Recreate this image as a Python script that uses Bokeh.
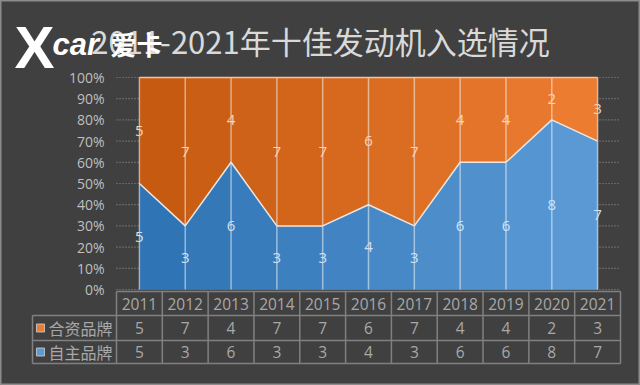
import numpy as np
from bokeh.plotting import figure
from bokeh.models import Range1d
from bokeh.core.properties import value
from bokeh.embed import file_html
from bokeh.resources import INLINE

# ---------------- data ----------------
title_text = "2011-2021年十佳发动机入选情况"
years = ["2011", "2012", "2013", "2014", "2015", "2016", "2017", "2018", "2019", "2020", "2021"]
series_names = ["合资品牌", "自主品牌"]
hezi = [5, 7, 4, 7, 7, 6, 7, 4, 4, 2, 3]      # 合资品牌 (top, orange)
zizhu = [5, 3, 6, 3, 3, 4, 3, 6, 6, 8, 7]     # 自主品牌 (bottom, blue)
y_ticks = [0, 10, 20, 30, 40, 50, 60, 70, 80, 90, 100]
y_tick_labels = ["0%", "10%", "20%", "30%", "40%", "50%", "60%", "70%", "80%", "90%", "100%"]

# ---------------- layout (pixels -> data) ----------------
W, H = 640, 385
cell_w = 504 / 11.0          # width of a table column in px
left_px = 116                # left edge of plot/table columns
zero_py = 289                # pixel row of 0%
ppu = 2.12                   # px per percent

x0 = -0.5 - left_px / cell_w
x1 = x0 + W / cell_w
y_top = zero_py / ppu
y_bot = -(H - zero_py) / ppu


def X(px):
    return x0 + px / cell_w


def Y(py):
    return (zero_py - py) / ppu


BG = "#404040"
FONT = "Open Sans"
CJK = "Noto Sans CJK SC"

p = figure(width=W, height=H, output_backend="svg", toolbar_location=None,
           x_range=Range1d(x0, x1), y_range=Range1d(y_bot, y_top),
           x_axis_type=None, y_axis_type=None, min_border=0,
           background_fill_color=BG, border_fill_color=BG)
p.grid.visible = False
p.outline_line_color = "#8c8c8c"
p.outline_line_width = 2

n = len(years)
idx = np.arange(n)
tot = np.array(hezi) + np.array(zizhu)
blue_pct = np.array(zizhu) / tot * 100.0

# ---------------- gridlines ----------------
p.segment(x0=[-0.5] * len(y_ticks), x1=[n - 0.5] * len(y_ticks), y0=y_ticks, y1=y_ticks,
          line_color="#8a8a8a", line_width=1.2, line_dash="1 2")

# y tick labels
p.text(x=[X(104)] * len(y_ticks), y=y_ticks, text=y_tick_labels,
       text_font=value(FONT), text_font_size="14px", text_color="#bfbfbf",
       text_align="right", text_baseline="middle")


# ---------------- stacked 100% areas (per-segment gradient) ----------------
def lerp_color(c0, c1, t):
    a = [int(c0[i:i + 2], 16) for i in (1, 3, 5)]
    b = [int(c1[i:i + 2], 16) for i in (1, 3, 5)]
    return "#%02x%02x%02x" % tuple(int(round(a[k] + (b[k] - a[k]) * t)) for k in range(3))


bxs, bys, bcol, oxs, oys, ocol = [], [], [], [], [], []
for k in range(n - 1):
    t = (k + 0.5) / (n - 1)
    bxs.append([k, k + 1, k + 1, k])
    bys.append([0, 0, blue_pct[k + 1], blue_pct[k]])
    bcol.append(lerp_color("#2d72b3", "#5c9bd6", t))
    oxs.append([k, k + 1, k + 1, k])
    oys.append([blue_pct[k], blue_pct[k + 1], 100, 100])
    ocol.append(lerp_color("#c4580f", "#ee7e32", t))

p.patches(xs=bxs, ys=bys, fill_color=bcol, line_color=bcol, line_width=0.6)
p.patches(xs=oxs, ys=oys, fill_color=ocol, line_color=ocol, line_width=0.6)

# drop lines
p.segment(x0=idx, x1=idx, y0=[0] * n, y1=[100] * n, line_color="white", line_alpha=0.5, line_width=1.5)
# top border and boundary line
p.line(x=idx, y=[100] * n, line_color="#f6c3a0", line_width=1.5)
p.line(x=idx, y=blue_pct, line_color="#e8e8e8", line_width=1.5)

# data labels
p.text(x=idx, y=blue_pct + (100 - blue_pct) / 2, text=[str(v) for v in hezi],
       text_font=value(FONT), text_font_size="15px", text_color="#f9d2b8",
       text_align="center", text_baseline="middle")
p.text(x=idx, y=blue_pct / 2, text=[str(v) for v in zizhu],
       text_font=value(FONT), text_font_size="15px", text_color="#cfe2f3",
       text_align="center", text_baseline="middle")

# ---------------- data table ----------------
LINE = "#808080"
TXT = "#a8a8a8"
r_top, r1, r2, r3 = Y(291), Y(315), Y(340), Y(363)
leg_left = X(32)
# horizontal lines
p.segment(x0=[-0.5, leg_left, leg_left, leg_left], x1=[n - 0.5] * 4,
          y0=[r_top, r1, r2, r3], y1=[r_top, r1, r2, r3], line_color=LINE, line_width=1.5)
# vertical lines
vx = [k - 0.5 for k in range(n + 1)]
p.segment(x0=vx, x1=vx, y0=[r_top] * len(vx), y1=[r3] * len(vx), line_color=LINE, line_width=1.5)
p.segment(x0=[leg_left], x1=[leg_left], y0=[r1], y1=[r3], line_color=LINE, line_width=1.5)

p.text(x=idx, y=[(r_top + r1) / 2] * n, text=years, text_font=value(FONT), text_font_size="15.5px",
       text_color=TXT, text_align="center", text_baseline="middle")
p.text(x=idx, y=[(r1 + r2) / 2] * n, text=[str(v) for v in hezi], text_font=value(FONT),
       text_font_size="15.5px", text_color=TXT, text_align="center", text_baseline="middle")
p.text(x=idx, y=[(r2 + r3) / 2] * n, text=[str(v) for v in zizhu], text_font=value(FONT),
       text_font_size="15.5px", text_color=TXT, text_align="center", text_baseline="middle")

# legend keys
row_y = [(r1 + r2) / 2, (r2 + r3) / 2]
p.rect(x=[X(40)] * 2, y=row_y, width=8 / cell_w, height=8 / ppu,
       fill_color=["#ed7d31", "#5b9bd5"], line_color="#d0d0d0", line_width=0.8)
p.text(x=[X(48)] * 2, y=row_y, text=series_names, text_font=value(CJK), text_font_size="16px",
       text_color=TXT, text_align="left", text_baseline="middle")

# ---------------- title ----------------
p.text(x=[X(320)], y=[Y(40)], text=[title_text], text_font=value(CJK), text_font_size="31px",
       text_color="#d9d9d9", text_align="center", text_baseline="middle")

# ---------------- watermark logo ----------------
p.text(x=[X(14)], y=[Y(47)], text=["X"], text_font=value("Liberation Sans"), text_font_size="60px",
       text_font_style="bold", text_color="white", text_align="left", text_baseline="middle")
p.text(x=[X(52)], y=[Y(44)], text=["car"], text_font=value("Liberation Sans"), text_font_size="31px",
       text_font_style="bold italic", text_color="white", text_align="left", text_baseline="middle")
p.text(x=[X(110)], y=[Y(43)], text=["爱卡"], text_font=value(CJK), text_font_size="26px",
       text_font_style="bold", text_color="white", text_align="left", text_baseline="middle")

open("out.html", "w").write(file_html(p, INLINE))
